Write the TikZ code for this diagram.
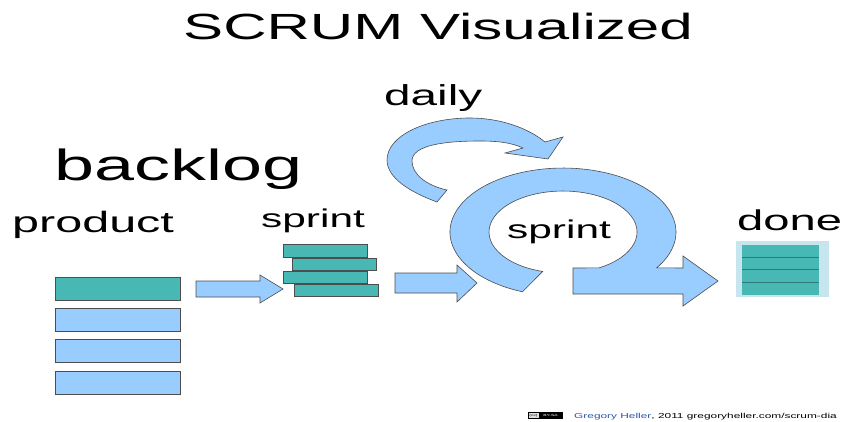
\documentclass[tikz,border=0pt]{standalone}
\usepackage{fontspec}
\setmainfont[FakeStretch=1.65]{Liberation Sans}
\usetikzlibrary{positioning}
\definecolor{skyblue}{HTML}{99CCFF}
\definecolor{tealbar}{HTML}{48B8B4}
\definecolor{edge}{HTML}{4D4D4D}
\definecolor{doneframe}{HTML}{C6E5EE}
\definecolor{doneline}{HTML}{2E7B78}
\definecolor{authorblue}{HTML}{2A56B0}

\begin{document}
\begin{tikzpicture}[
x=1pt, y=-1pt,
heading/.style={
  anchor=base west,
  inner sep=0pt,
  font=\fontsize{#1}{#1}\selectfont
  },
story/.style={
  draw=edge,
  fill=skyblue,
  line width=0.6pt,
  minimum width=125pt,
  minimum height=23pt,
  inner sep=0pt
  },
task/.style={
  draw=edge,
  fill=tealbar,
  line width=0.6pt,
  minimum width=84pt,
  minimum height=12.5pt,
  inner sep=0pt
  },
blockarrow/.style={
  draw=edge,
  fill=skyblue,
  line width=0.6pt,
  line join=miter
  }
]
\fill[white] (0,0) rectangle (846,422);
\useasboundingbox (0,0) rectangle (846,422);

% texts
\node[heading=36.4] (title) at (183,40) {SCRUM Visualized};
\node[heading=28.9] (daily) at (384,106) {daily};
\node[heading=43.6] (backlog) at (54,181) {backlog};
\node[heading=29.4] (product) at (12,233) {product};
\node[heading=25.7] (sprintlbl) at (261,228) {sprint};
\node[heading=28.6] (done) at (737,230) {done};

% product backlog
\node[story, fill=tealbar] (pb1) at (117.5,289) {};
\node[story, below=7.5pt of pb1] (pb2) {};
\node[story, below=7.5pt of pb2] (pb3) {};
\node[story, below=7.5pt of pb3] (pb4) {};

% sprint backlog
\node[task] (sb1) at (325,251) {};
\node[task, below=0pt of sb1, xshift=9.5pt] (sb2) {};
\node[task, below=0pt of sb2, xshift=-9.5pt] (sb3) {};
\node[task, below=0pt of sb3, xshift=11pt] (sb4) {};

\draw[blockarrow] (196,281) -- (260,281) -- (260,275) -- (283,289)
  -- (260,303) -- (260,297) -- (196,297) -- cycle;
\draw[blockarrow] (395,273) -- (457,273) -- (457,265) -- (477,283)
  -- (457,302) -- (457,293) -- (395,293) -- cycle;

% daily loop
\draw[blockarrow] (437,202) .. controls (410,192) and (387,178) .. (387,160)
  .. controls (387,136) and (425,118) .. (470,118)
  .. controls (500,118) and (528,128) .. (545,142)
  -- (563,137) -- (548,159) -- (505,153) -- (523,148)
  .. controls (510,142) and (495,141) .. (480,141)
  .. controls (445,141) and (412,145) .. (412,161)
  .. controls (412,175) and (428,186) .. (447,190) -- cycle;

% sprint loop
\draw[blockarrow] (522.5,291.8)
  arc[start angle=111, end angle=394, x radius=113, y radius=64]
  -- (683,268) -- (683,256) -- (718,281) -- (683,306) -- (683,294)
  -- (573,294) -- (573,268) -- (598.9,267.9)
  arc[start angle=61, end angle=-254, x radius=74, y radius=41] -- cycle;
\node[heading=25.7] (sprint) at (507,239) {sprint};

% done
\node[fill=doneframe, minimum width=93pt, minimum height=56pt, inner sep=0pt] (doneback) at (782.5,269) {};
\node[fill=tealbar, minimum width=77pt, minimum height=50pt, inner sep=0pt] (donebox) at (780.5,270) {};
\foreach \k in {1,2,3}
  \draw[doneline, line width=0.9pt] (donebox.north west) ++(0,12.5*\k) -- ++(77,0);

% credit
\node[draw=black, fill=gray!25, line width=0.4pt, minimum width=34pt, minimum height=6pt, inner sep=0pt] (ccbadge) at (545,415.5) {};
\fill[black] (539,412.5) rectangle (562,418.5);
\node[inner sep=0pt, font=\fontsize{3}{3}\selectfont] (cc) at (533.5,415.5) {(cc)};
\node[inner sep=0pt, text=white, font=\fontsize{3}{3}\selectfont] (bysa) at (550.5,415.5) {BY-SA};
\node[heading=7.2] (credit) at (574,418) {\textcolor{authorblue}{Gregory Heller}, 2011 gregoryheller.com/scrum-dia};
\end{tikzpicture}
\end{document}
